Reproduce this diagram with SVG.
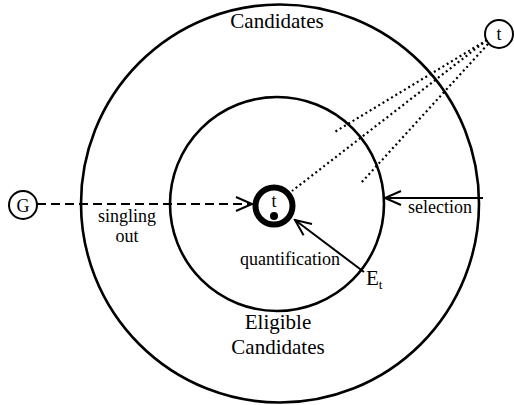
<svg xmlns="http://www.w3.org/2000/svg" width="514" height="405" viewBox="0 0 514 405">
<defs>
<style>
.ring{fill:none;stroke:#000;stroke-width:2.6}
.lbl{font-family:"Liberation Serif","Times New Roman",serif;font-size:18px;fill:#000}
.big{font-family:"Liberation Serif","Times New Roman",serif;font-size:21px;fill:#000}
.con{fill:none;stroke:#000;stroke-width:2}
.dot{fill:none;stroke:#000;stroke-width:2.2;stroke-dasharray:2 3}
.dash{fill:none;stroke:#000;stroke-width:1.8;stroke-dasharray:9 5}
</style>
<marker id="arr" viewBox="0 0 20 20" refX="18" refY="10" markerWidth="20" markerHeight="20" markerUnits="userSpaceOnUse" orient="auto">
<path d="M2 3 L18 10 L2 17" fill="none" stroke="#000" stroke-width="2"/>
</marker>
</defs>
<rect width="514" height="405" fill="#fff"/>
<g id="candidates">
<circle class="ring" cx="280" cy="203.5" r="199"/>
<text class="big" x="277" y="28" text-anchor="middle">Candidates</text>
</g>
<g id="eligible">
<circle class="ring" cx="277" cy="204" r="107"/>
<text class="big" x="278" y="329" text-anchor="middle">Eligible</text>
<text class="big" x="278" y="354" text-anchor="middle">Candidates</text>
<text class="big" x="366" y="285" font-size="20">E<tspan font-size="13" dy="4">t</tspan></text>
</g>
<g id="t-inner">
<circle cx="274" cy="206" r="18.5" fill="none" stroke="#000" stroke-width="6"/>
<text class="lbl" x="274" y="207" text-anchor="middle" font-size="21">t</text>
<circle cx="274" cy="216" r="4" fill="#000"/>
</g>
<g id="G">
<circle cx="23" cy="205" r="14" fill="none" stroke="#000" stroke-width="2"/>
<text class="lbl" x="23" y="212" text-anchor="middle" font-size="20">G</text>
</g>
<g id="t-outer">
<circle cx="499" cy="34" r="14" fill="none" stroke="#000" stroke-width="2"/>
<text class="lbl" x="499" y="40" text-anchor="middle" font-size="20">t</text>
</g>
<g id="connectors">
<line class="dash" x1="37" y1="204" x2="252" y2="204" marker-end="url(#arr)"/>
<line class="con" x1="483" y1="198" x2="385" y2="198" marker-end="url(#arr)"/>
<line class="con" x1="364" y1="272" x2="295" y2="220" marker-end="url(#arr)"/>
<line class="dot" x1="487" y1="40" x2="333" y2="133"/>
<line class="dot" x1="487" y1="40" x2="292" y2="191"/>
<line class="dot" x1="488" y1="44" x2="361" y2="183"/>
</g>
<g id="labels">
<text class="lbl" x="127" y="222" text-anchor="middle">singling</text>
<text class="lbl" x="127" y="242" text-anchor="middle">out</text>
<text class="lbl" x="440" y="213" text-anchor="middle">selection</text>
<text class="lbl" x="290" y="265" text-anchor="middle">quantification</text>
</g>
</svg>
